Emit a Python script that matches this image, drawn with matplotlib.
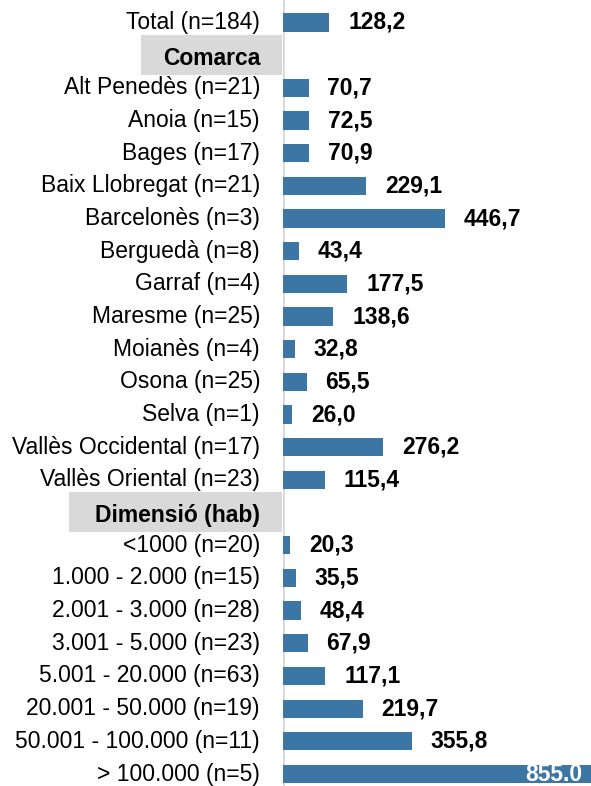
import matplotlib.pyplot as plt
from matplotlib.patches import Rectangle
from matplotlib.transforms import blended_transform_factory

plt.rcParams["font.family"] = ["Liberation Sans", "DejaVu Sans"]

# rows top to bottom; None value = section header
labels = [
    "Total (n=184)",
    "Comarca",
    "Alt Penedès (n=21)",
    "Anoia (n=15)",
    "Bages (n=17)",
    "Baix Llobregat (n=21)",
    "Barcelonès (n=3)",
    "Berguedà (n=8)",
    "Garraf (n=4)",
    "Maresme (n=25)",
    "Moianès (n=4)",
    "Osona (n=25)",
    "Selva (n=1)",
    "Vallès Occidental (n=17)",
    "Vallès Oriental (n=23)",
    "Dimensió (hab)",
    "<1000 (n=20)",
    "1.000 - 2.000 (n=15)",
    "2.001 - 3.000 (n=28)",
    "3.001 - 5.000 (n=23)",
    "5.001 - 20.000 (n=63)",
    "20.001 - 50.000 (n=19)",
    "50.001 - 100.000 (n=11)",
    "> 100.000 (n=5)",
]
values = [
    128.2, None, 70.7, 72.5, 70.9, 229.1, 446.7, 43.4, 177.5, 138.6, 32.8,
    65.5, 26.0, 276.2, 115.4, None, 20.3, 35.5, 48.4, 67.9, 117.1, 219.7,
    355.8, 855.0,
]

BAR = "#3B76A4"
GREY = "#D9D9D9"
FS = 16.5

fig = plt.figure(figsize=(5.91, 7.86), dpi=100)
ax = fig.add_axes([283 / 591, 0, 1 - 283 / 591, 1])
ax.set_xlim(0, 850)
n = len(labels)
ax.set_ylim(n - 1 + 12 / 32.7, -22.5 / 32.7)
ax.axis("off")
ax.axvline(0, color=GREY, lw=2, zorder=1)

trans = blended_transform_factory(fig.transFigure, ax.transData)
label_x = 260 / 591

for i, (lab, val) in enumerate(zip(labels, values)):
    if val is None:
        left = {"Comarca": 141, "Dimensió (hab)": 69}[lab]
        fig.patches.append(Rectangle((left / 591, i - 0.62), (282 - left) / 591, 1.22,
                                     transform=trans, facecolor=GREY, edgecolor="none"))
        fig.text(label_x, i + 0.1, lab, transform=trans, ha="right", va="center",
                 fontsize=FS, fontweight="bold")
        continue
    ax.barh(i, val, height=0.56, color=BAR, zorder=2)
    fig.text(label_x, i, lab, transform=trans, ha="right", va="center", fontsize=FS)
    if val > 800:
        ax.text(val - 30, i, f"{val:.1f}", ha="right", va="center",
                fontsize=FS, fontweight="bold", color="white")
    else:
        ax.text(val + 52, i, f"{val:.1f}".replace(".", ","), ha="left",
                va="center", fontsize=FS, fontweight="bold")

fig.savefig("out.png", dpi=100)
